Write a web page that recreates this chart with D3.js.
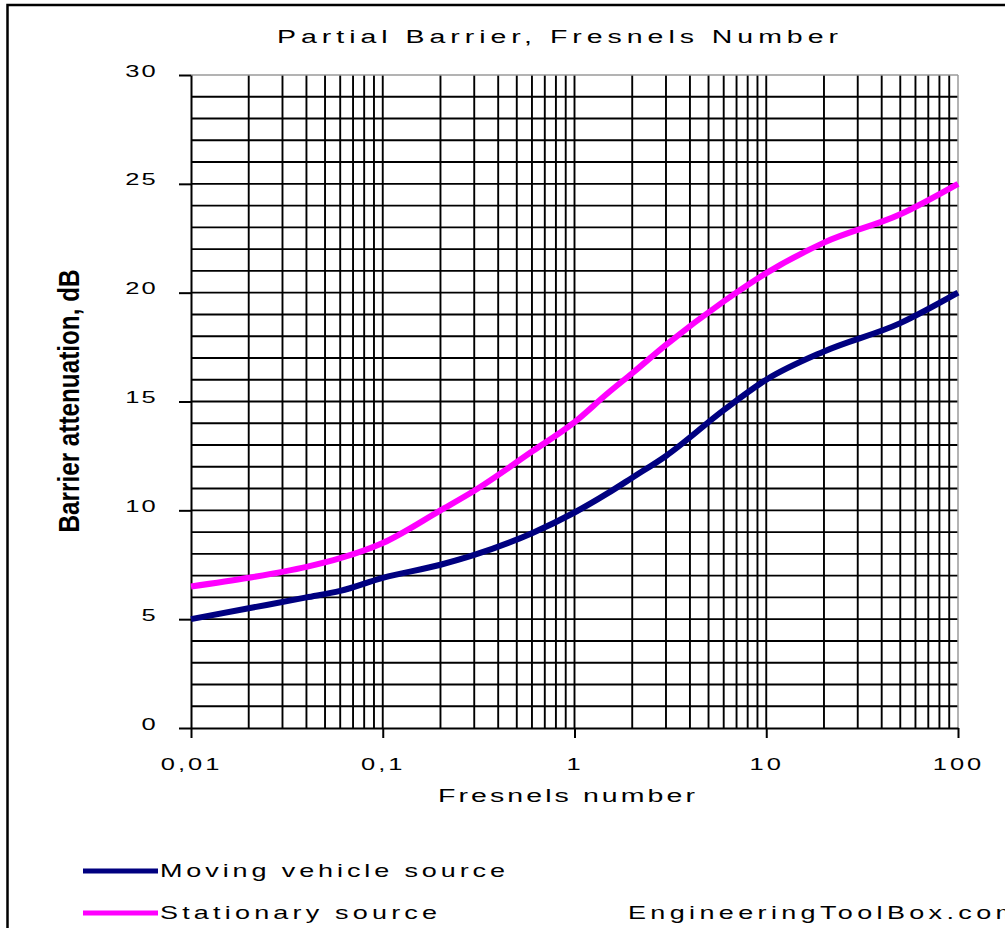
<!DOCTYPE html>
<html>
<head>
<meta charset="utf-8">
<script src="https://cdn.jsdelivr.net/npm/d3@7/dist/d3.min.js"></script>
<style>
  html, body { margin: 0; padding: 0; background: #fff; }
  svg { display: block; }
  text { font-family: "Liberation Sans", Arial, sans-serif; fill: #000; }
</style>
</head>
<body>
<svg id="chart" width="1005" height="928"></svg>
<script>
// ---- data ----
const fresnelNumbers = [0.01, 0.02, 0.04, 0.06, 0.1, 0.2, 0.3, 0.6, 1, 1.5, 2, 3, 6, 10, 20, 50, 100];
const movingVehicle  = [5.0, 5.5, 6.0, 6.3, 6.9, 7.5, 7.95, 8.95, 9.9, 10.8, 11.5, 12.5, 14.6, 16.0, 17.3, 18.6, 20.0];
const stationary     = [6.5, 6.9, 7.4, 7.8, 8.5, 10.0, 10.9, 12.7, 14.05, 15.4, 16.3, 17.6, 19.6, 20.9, 22.3, 23.6, 25.0];
const seriesNames    = ["Moving vehicle source", "Stationary source"];
const seriesColors   = ["#000080", "#ff00ff"];
const yTickValues    = [0, 5, 10, 15, 20, 25, 30];
const xTickValues    = [0.01, 0.1, 1, 10, 100];
const xTickLabels    = ["0,01", "0,1", "1", "10", "100"];
const titleText      = "Partial Barrier, Fresnels Number";
const xAxisTitle     = "Fresnels number";
const yAxisTitle     = "Barrier attenuation, dB";
const creditText     = "EngineeringToolBox.com";

// ---- layout ----
const svg = d3.select("#chart");
const SX = 1.5; // horizontal stretch of the original raster text
const x = d3.scaleLog().domain([0.01, 100]).range([191, 958]);
const y = d3.scaleLinear().domain([0, 30]).range([728, 75]);

// outer frame
svg.append("rect").attr("x", 7.5).attr("y", 5).attr("width", 1020).attr("height", 940)
  .attr("fill", "none").attr("stroke", "#000").attr("stroke-width", 2.5);

function stretchedText(parent, px, py, str, opt) {
  const t = parent.append("text")
    .attr("transform", `translate(${px},${py}) scale(${SX},1)`)
    .attr("font-size", opt.size)
    .attr("text-anchor", opt.anchor || "start")
    .text(str);
  if (opt.ls != null) t.attr("letter-spacing", opt.ls);
  if (opt.len) t.attr("textLength", opt.len / SX).attr("lengthAdjust", "spacing");
  return t;
}

// title
stretchedText(svg, 277, 43, titleText, { size: 19, len: 561 });

// grid
const grid = svg.append("g");
const hVals = d3.range(1, 30);
grid.selectAll("line.h").data(hVals).join("line")
  .attr("x1", x(0.01)).attr("x2", x(100))
  .attr("y1", d => y(d)).attr("y2", d => y(d))
  .attr("stroke", "#000").attr("stroke-width", 1.9);
const vVals = [];
[0.01, 0.1, 1, 10].forEach(dec => d3.range(1, 10).forEach(m => vVals.push(dec * m)));
grid.selectAll("line.v").data(vVals.filter(v => v > 0.01 + 1e-9)).join("line")
  .attr("x1", d => x(d)).attr("x2", d => x(d))
  .attr("y1", y(0)).attr("y2", y(30))
  .attr("stroke", "#000").attr("stroke-width", 1.9);

// top & right plot border (gray)
svg.append("line").attr("x1", x(0.01)).attr("x2", x(100)).attr("y1", y(30)).attr("y2", y(30))
  .attr("stroke", "#9a9a9a").attr("stroke-width", 1.5);
svg.append("line").attr("x1", x(100)).attr("x2", x(100)).attr("y1", y(30)).attr("y2", y(0))
  .attr("stroke", "#9a9a9a").attr("stroke-width", 1.5);

// y axis
const yAxis = svg.append("g").attr("transform", `translate(${x(0.01)},0)`)
  .call(d3.axisLeft(y).tickValues(yTickValues).tickSize(12).tickSizeOuter(0).tickFormat(d3.format("d")));
yAxis.select(".domain").attr("stroke", "#000").attr("stroke-width", 2);
yAxis.selectAll(".tick line").attr("stroke", "#000").attr("stroke-width", 2);
yAxis.selectAll(".tick text")
  .attr("x", null).attr("dy", null).attr("y", null)
  .attr("font-size", 17).attr("font-family", "Liberation Sans, Arial, sans-serif")
  .attr("letter-spacing", 1.5)
  .attr("text-anchor", "end")
  .attr("transform", `translate(-33,1) scale(${SX},1)`);

// x axis
const xAxis = svg.append("g").attr("transform", `translate(0,${y(0)})`)
  .call(d3.axisBottom(x).tickValues(xTickValues).tickSize(10).tickSizeOuter(0)
    .tickFormat((d, i) => xTickLabels[i]));
xAxis.select(".domain").attr("stroke", "#000").attr("stroke-width", 2);
xAxis.selectAll(".tick line").attr("stroke", "#000").attr("stroke-width", 2);
xAxis.selectAll(".tick text")
  .attr("y", null).attr("dy", null)
  .attr("font-size", 17).attr("font-family", "Liberation Sans, Arial, sans-serif")
  .attr("letter-spacing", 2)
  .attr("text-anchor", "middle")
  .attr("transform", `translate(0,42) scale(${SX},1)`);

// axis titles
stretchedText(svg, 438, 802, xAxisTitle, { size: 19, len: 257 });
svg.append("text")
  .attr("transform", "translate(79,401) rotate(-90) scale(1,1.5)")
  .attr("text-anchor", "middle")
  .attr("font-size", 20).attr("font-weight", "bold")
  .attr("font-family", "'Liberation Sans Narrow', 'Arial Narrow', 'DejaVu Sans Condensed', sans-serif")
  .attr("textLength", 263).attr("lengthAdjust", "spacingAndGlyphs")
  .text(yAxisTitle);

// series lines
const seriesData = [movingVehicle, stationary];
const line = d3.line()
  .x((d, i) => x(fresnelNumbers[i]))
  .y(d => y(d))
  .curve(d3.curveMonotoneX);
svg.append("g").selectAll("path").data(seriesData).join("path")
  .attr("d", d => line(d))
  .attr("fill", "none")
  .attr("stroke", (d, i) => seriesColors[i])
  .attr("stroke-width", 6)
  .attr("stroke-linejoin", "round");

// legend
const legendRows = [
  { yLine: 871, yText: 877, len: 345 },
  { yLine: 913, yText: 919, len: 277 }
];
seriesNames.forEach((name, i) => {
  svg.append("line").attr("x1", 83).attr("x2", 158)
    .attr("y1", legendRows[i].yLine).attr("y2", legendRows[i].yLine)
    .attr("stroke", seriesColors[i]).attr("stroke-width", 5);
  stretchedText(svg, 160, legendRows[i].yText, name, { size: 18, len: legendRows[i].len });
});
stretchedText(svg, 628, 919, creditText, { size: 18, len: 390 });
</script>
</body>
</html>
